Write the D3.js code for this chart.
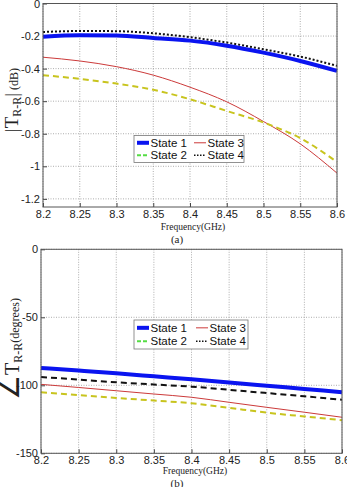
<!DOCTYPE html>
<html><head><meta charset="utf-8">
<script src="https://cdn.jsdelivr.net/npm/d3@7"></script>
<style>body{margin:0;background:#fff}svg{display:block}</style>
</head><body>
<svg id="c" width="347" height="487"></svg>
<script>
const freqs = [8.2, 8.25, 8.3, 8.35, 8.4, 8.45, 8.5, 8.55, 8.6];
const xTicks = [8.2, 8.25, 8.3, 8.35, 8.4, 8.45, 8.5, 8.55, 8.6];
// (a) magnitude, dB
const magState1 = [-0.204, -0.195, -0.197, -0.212, -0.228, -0.259, -0.302, -0.353, -0.414];
const magState2 = [-0.44, -0.463, -0.492, -0.53, -0.588, -0.66, -0.731, -0.827, -0.974];
const magState3 = [-0.33, -0.353, -0.388, -0.44, -0.514, -0.604, -0.725, -0.862, -1.042];
const magState4 = [-0.175, -0.169, -0.17, -0.183, -0.207, -0.24, -0.281, -0.326, -0.383];
const magTicks = [0, -0.2, -0.4, -0.6, -0.8, -1, -1.2];
// (b) phase, degrees
const phState1 = [-87.3, -89.2, -91.2, -93.4, -95.6, -97.9, -100.3, -102.7, -105.1];
const phState2 = [-105.1, -107.2, -109.3, -111.2, -113.2, -116.6, -120.1, -122.9, -125.7];
const phState3 = [-99.3, -101.6, -104, -106.4, -108.8, -112.5, -116.2, -119.8, -123.5];
const phState4 = [-93.9, -95.8, -97.8, -99.4, -101, -103.3, -105.7, -108.1, -110.6];
const phTicks = [0, -50, -100, -150];
const seriesNames = ["State 1", "State 2", "State 3", "State 4"];

const svg = d3.select("#c");
const SANS = "Liberation Sans, Arial, sans-serif";
const SERIF = "Liberation Serif, Times New Roman, serif";

const stylesA = [
  {color:"#0a14f0", w:4, dash:null},
  {color:"#c8c41e", w:2, dash:"6,4"},
  {color:"#cc3a3a", w:1, dash:null},
  {color:"#111", w:2, dash:"2,2"}
];
const stylesB = [
  {color:"#0a14f0", w:4, dash:null},
  {color:"#c8c41e", w:2, dash:"6,4"},
  {color:"#cc3a3a", w:1, dash:null},
  {color:"#111", w:2, dash:"6,4"}
];
const legStyles = [
  {color:"#0a14f0", w:4, dash:null},
  {color:"#55dd44", w:2, dash:"4,2"},
  {color:"#cc3a3a", w:1, dash:null},
  {color:"#111", w:1.5, dash:"1.5,1.5"}
];

function panel(opt){
  const g = svg.append("g");
  const x = d3.scaleLinear().domain([8.2, 8.6]).range([opt.x0, opt.x1]);
  const y = d3.scaleLinear().domain(opt.ydom).range([opt.y1, opt.y0]);
  // grid
  g.selectAll(".vg").data(xTicks).enter().append("line")
    .attr("x1", d=>x(d)).attr("x2", d=>x(d)).attr("y1", opt.y0).attr("y2", opt.y1)
    .attr("stroke", "#999").attr("stroke-width", 0.8).attr("stroke-dasharray", "1,1.5");
  g.selectAll(".hg").data(opt.yticks).enter().append("line")
    .attr("x1", opt.x0).attr("x2", opt.x1).attr("y1", d=>y(d)).attr("y2", d=>y(d))
    .attr("stroke", "#999").attr("stroke-width", 0.8).attr("stroke-dasharray", "1,1.5");
  // axes
  const xa = d3.axisBottom(x).tickValues(xTicks).tickSize(-4).tickPadding(3).tickFormat(d=>String(+d.toFixed(2)));
  const ya = d3.axisLeft(y).tickValues(opt.yticks).tickSize(-4).tickPadding(3).tickFormat(d=>String(d));
  const ax = g.append("g").attr("transform", `translate(0,${opt.y1})`).call(xa);
  const ay = g.append("g").attr("transform", `translate(${opt.x0},0)`).call(ya);
  [ax, ay].forEach(a=>{
    a.select(".domain").remove();
    a.selectAll("line").attr("stroke", "#444");
    a.selectAll("text").attr("font-family", SANS).attr("font-size", 11).attr("fill", "#222");
  });
  // lines
  const line = d3.line().x((d,i)=>x(freqs[i])).y(d=>y(d)).curve(d3.curveMonotoneX);
  [2, 1, 3, 0].forEach(k=>{
    const st = opt.styles[k];
    g.append("path").datum(opt.series[k]).attr("d", line)
      .attr("fill", "none").attr("stroke", st.color).attr("stroke-width", st.w)
      .attr("stroke-dasharray", st.dash);
  });
  // frame
  g.append("rect").attr("x", opt.x0).attr("y", opt.y0).attr("width", opt.x1-opt.x0).attr("height", opt.y1-opt.y0)
    .attr("fill", "none").attr("stroke", "#555").attr("stroke-width", 1);
  // legend
  const L = opt.legend;
  g.append("rect").attr("x", L.x).attr("y", L.y).attr("width", L.w).attr("height", L.h)
    .attr("fill", "#fff").attr("stroke", "#777").attr("stroke-width", 0.8);
  const cols = [L.x + 3, L.x + 3 + L.colW];
  const rows = [L.y + L.h*0.27, L.y + L.h*0.73];
  const pos = [[0,0],[0,1],[1,0],[1,1]];
  seriesNames.forEach((n,k)=>{
    const [c,r] = pos[k];
    const st = legStyles[k];
    g.append("line").attr("x1", cols[c]).attr("x2", cols[c]+12).attr("y1", rows[r]).attr("y2", rows[r])
      .attr("stroke", st.color).attr("stroke-width", st.w).attr("stroke-dasharray", st.dash);
    g.append("text").attr("x", cols[c]+13.5).attr("y", rows[r]).attr("dy", "0.36em")
      .attr("font-family", SANS).attr("font-size", 11.5).attr("fill", "#111").text(n);
  });
  return {x, y, g};
}

panel({x0:43, x1:337, y0:3.5, y1:207, ydom:[-1.25, 0], yticks:magTicks,
  series:[magState1, magState2, magState3, magState4], styles:stylesA,
  legend:{x:134, y:135.5, w:110, h:27, colW:57}});

panel({x0:41, x1:342, y0:249.3, y1:453.3, ydom:[-150, 0], yticks:phTicks,
  series:[phState1, phState2, phState3, phState4], styles:stylesB,
  legend:{x:134, y:320, w:114, h:29, colW:59}});

// titles
function t(x, y, size, s){
  svg.append("text").attr("x", x).attr("y", y).attr("text-anchor", "middle")
    .attr("font-family", SERIF).attr("font-size", size).attr("fill", "#222").text(s);
}
t(193, 229.5, 9.5, "Frequency(GHz)");
t(177, 243, 11, "(a)");
t(195, 474, 9.5, "Frequency(GHz)");
t(177, 487, 11, "(b)");

// y labels
const yl1 = svg.append("text").attr("transform", "translate(18,100) rotate(-90)").attr("text-anchor", "middle")
  .attr("font-family", SERIF).attr("fill", "#222");
yl1.append("tspan").attr("font-size", 19).text("|T");
yl1.append("tspan").attr("font-size", 12).attr("dy", 3).text("R-R");
yl1.append("tspan").attr("font-size", 19).attr("dy", -3).text("|");
yl1.append("tspan").attr("font-size", 12).text(" (dB)");

const yl2 = svg.append("text").attr("transform", "translate(19,349) rotate(-90)").attr("text-anchor", "middle")
  .attr("font-family", SERIF).attr("fill", "#222");
yl2.append("tspan").attr("font-size", 28).text("∠");
yl2.append("tspan").attr("font-size", 20).text("T");
yl2.append("tspan").attr("font-size", 12).attr("dy", 3).text("R-R");
yl2.append("tspan").attr("font-size", 12).attr("dy", -3).text("(degrees)");
</script>
</body></html>
